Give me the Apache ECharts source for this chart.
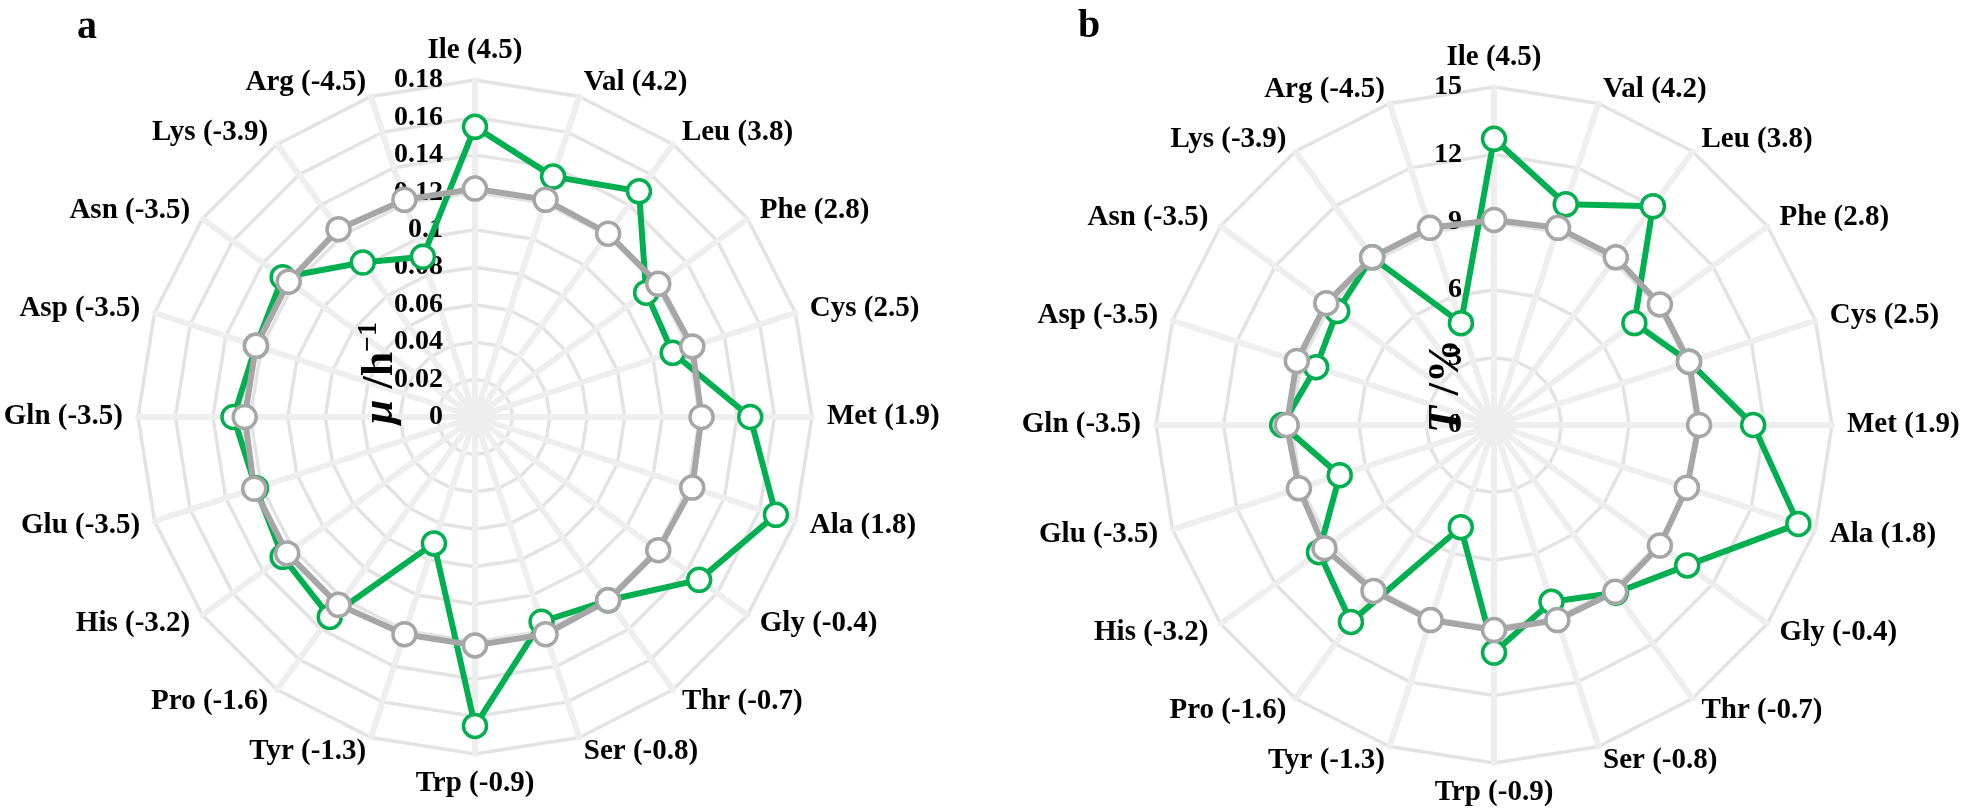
<!DOCTYPE html>
<html>
<head>
<meta charset="utf-8">
<script src="https://cdn.jsdelivr.net/npm/echarts@6/dist/echarts.min.js"></script>
<style>
html,body{margin:0;padding:0;background:#fff;}
#chart{width:1961px;height:812px;}
</style>
</head>
<body>
<div id="chart"></div>
<script>
// ---- data ----
const aminoAcids = ['Ile (4.5)', 'Val (4.2)', 'Leu (3.8)', 'Phe (2.8)', 'Cys (2.5)', 'Met (1.9)', 'Ala (1.8)',
  'Gly (-0.4)', 'Thr (-0.7)', 'Ser (-0.8)', 'Trp (-0.9)', 'Tyr (-1.3)', 'Pro (-1.6)', 'His (-3.2)',
  'Glu (-3.5)', 'Gln (-3.5)', 'Asp (-3.5)', 'Asn (-3.5)', 'Lys (-3.9)', 'Arg (-4.5)'];

const muTicks = [0, 0.02, 0.04, 0.06, 0.08, 0.1, 0.12, 0.14, 0.16, 0.18];
const muTickLabels = ['0', '0.02', '0.04', '0.06', '0.08', '0.1', '0.12', '0.14', '0.16', '0.18'];
const tTicks = [0, 3, 6, 9, 12, 15];
const tTickLabels = ['0', '3', '6', '9', '12', '15'];

// panel a: specific growth rate mu (h^-1)
const muGreen = [0.155, 0.135, 0.149, 0.113, 0.111, 0.147, 0.169, 0.148, 0.121, 0.115,
                 0.165, 0.071, 0.132, 0.127, 0.123, 0.129, 0.123, 0.127, 0.102, 0.090];
const muGray  = [0.122, 0.122, 0.121, 0.121, 0.122, 0.121, 0.122, 0.121, 0.121, 0.122,
                 0.122, 0.122, 0.124, 0.124, 0.124, 0.123, 0.123, 0.123, 0.124, 0.122];

// panel b: T (per mille)
const tGreen = [12.7, 10.3, 12.0, 7.7, 9.1, 11.5, 14.2, 10.6, 9.2, 8.25,
                10.1, 4.77, 10.8, 9.6, 7.2, 9.4, 8.3, 8.6, 9.2, 4.75];
const tGray  = [9.1, 9.2, 9.2, 9.1, 9.1, 9.1, 9.0, 9.1, 9.15, 9.1,
                9.1, 9.1, 9.1, 9.3, 9.1, 9.2, 9.2, 9.2, 9.2, 9.2];

// ---- build ----
const GREEN = '#00b050';
const GRAY = '#a6a6a6';
const FONT = 'Liberation Serif';

// ECharts radar goes counter-clockwise; the reference goes clockwise
const n = aminoAcids.length;
const order = aminoAcids.map((_, i) => (n - i) % n);
const reorder = arr => order.map(i => arr[i]);

function indicators(ticks, labels) {
  return order.map((k, j) => {
    const o = { name: aminoAcids[k], min: ticks[0], max: ticks[ticks.length - 1] };
    if (j === 0) {
      o.axisLabel = {
        show: true, margin: 32, color: '#000', fontFamily: FONT, fontWeight: 'bold', fontSize: 28,
        formatter: (v, idx) => labels[idx]
      };
    }
    return o;
  });
}

function radar(center, radius, ticks, labels) {
  return {
    center: center, radius: radius, startAngle: 90, shape: 'polygon',
    splitNumber: ticks.length - 1,
    indicator: indicators(ticks, labels),
    axisName: { color: '#000', fontFamily: FONT, fontWeight: 'bold', fontSize: 29 },
    nameGap: 15,
    axisLine: { show: true, lineStyle: { color: '#eeeeee', width: 6 } },
    splitLine: { show: true, lineStyle: { color: '#e3e3e3', width: 3.5 } },
    splitArea: { show: false },
    axisTick: { show: false },
    axisLabel: { show: false }
  };
}

function series(radarIndex, values, color, name) {
  return {
    type: 'radar', radarIndex: radarIndex, name: name,
    symbol: 'circle', symbolSize: 23,
    lineStyle: { color: color, width: 6 },
    itemStyle: { color: '#fff', borderColor: color, borderWidth: 3.5 },
    data: [{ value: reorder(values), name: name }]
  };
}

const option = {
  backgroundColor: '#fff',
  animation: false,
  radar: [
    radar([475, 417], 337, muTicks, muTickLabels),
    radar([1494, 425], 338, tTicks, tTickLabels)
  ],
  series: [
    series(0, muGreen, GREEN, 'a-green'),
    series(0, muGray, GRAY, 'a-gray'),
    series(1, tGreen, GREEN, 'b-green'),
    series(1, tGray, GRAY, 'b-gray')
  ],
  graphic: [
    { type: 'text', x: 87, y: 28, style: { text: 'a', fill: '#000', font: 'bold 40px "Liberation Serif"', align: 'center', verticalAlign: 'middle' } },
    { type: 'text', x: 1089, y: 27, style: { text: 'b', fill: '#000', font: 'bold 40px "Liberation Serif"', align: 'center', verticalAlign: 'middle' } },
    { type: 'text', x: 379, y: 373, rotation: Math.PI / 2, z: 100,
      style: {
        text: '{i|μ}{n| /h}{s|−1}', align: 'center', verticalAlign: 'middle', fill: '#000',
        rich: {
          i: { fontFamily: FONT, fontWeight: 'bold', fontStyle: 'italic', fontSize: 44, lineHeight: 48, verticalAlign: 'bottom' },
          n: { fontFamily: FONT, fontWeight: 'bold', fontSize: 44, lineHeight: 48, verticalAlign: 'bottom' },
          s: { fontFamily: FONT, fontWeight: 'bold', fontSize: 28, lineHeight: 48, verticalAlign: 'top' }
        }
      } },
    { type: 'text', x: 1447, y: 386, rotation: Math.PI / 2, z: 100,
      style: {
        text: '{i|T}{n| /%}', align: 'center', verticalAlign: 'middle', fill: '#000',
        rich: {
          i: { fontFamily: FONT, fontWeight: 'bold', fontStyle: 'italic', fontSize: 44 },
          n: { fontFamily: FONT, fontWeight: 'bold', fontSize: 44 }
        }
      } }
  ]
};

const chart = echarts.init(document.getElementById('chart'), null, { renderer: 'canvas' });
chart.setOption(option);
</script>
</body>
</html>
